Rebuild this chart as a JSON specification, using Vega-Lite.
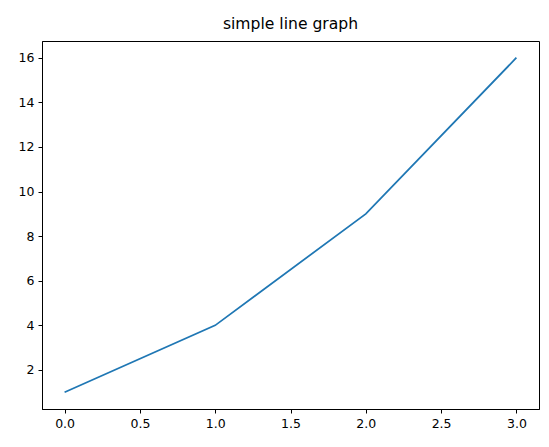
{
  "$schema": "https://vega.github.io/schema/vega-lite/v6.json",
  "width": 497,
  "height": 368,
  "autosize": {"type": "none"},
  "padding": {"left": 42, "top": 41, "right": 10, "bottom": 38},
  "background": "white",
  "title": {
    "text": "simple line graph",
    "font": "DejaVu Sans",
    "fontSize": 15.6,
    "fontWeight": "normal",
    "color": "black",
    "anchor": "middle",
    "offset": 8
  },
  "config": {
    "view": {"stroke": "black", "strokeWidth": 1},
    "axis": {
      "grid": false,
      "domainColor": "black",
      "tickColor": "black",
      "tickSize": 4,
      "labelPadding": 4,
      "labelFont": "DejaVu Sans",
      "labelFontSize": 12.5,
      "labelColor": "black",
      "domain": true
    }
  },
  "data": {
    "values": [
      {"x": 0, "y": 1},
      {"x": 1, "y": 4},
      {"x": 2, "y": 9},
      {"x": 3, "y": 16}
    ]
  },
  "mark": {"type": "line", "color": "#1f77b4", "strokeWidth": 1.75},
  "encoding": {
    "x": {
      "field": "x",
      "type": "quantitative",
      "scale": {"domain": [-0.15, 3.15], "nice": false, "zero": false},
      "axis": {"title": null, "values": [0, 0.5, 1, 1.5, 2, 2.5, 3], "format": ".1f", "labelFlush": false}
    },
    "y": {
      "field": "y",
      "type": "quantitative",
      "scale": {"domain": [0.25, 16.75], "nice": false, "zero": false},
      "axis": {"title": null, "values": [2, 4, 6, 8, 10, 12, 14, 16], "format": "d", "labelFlush": false}
    }
  }
}
